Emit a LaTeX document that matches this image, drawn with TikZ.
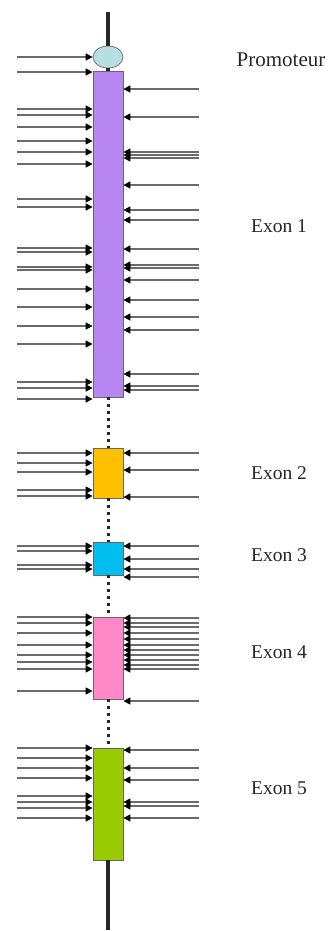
\documentclass[tikz,border=0pt]{standalone}
\usepackage{fontspec}
\setmainfont{Liberation Serif}
\usetikzlibrary{arrows.meta,shapes.geometric}
\begin{document}
\begin{tikzpicture}[x=1pt,y=-1pt,
  exon/.style={rectangle, draw=black!60, line width=0.8pt, minimum width=30pt, inner sep=0pt},
  feed/.style={draw=black!58, line width=1.5pt, -{Triangle[length=7pt,width=7pt,color=black]}},
  spine/.style={line width=3.5pt, draw=black!85},
  gap/.style={spine, line width=3pt, dash pattern=on 3pt off 4pt},
  lbl/.style={font=\fontsize{19.5}{22}\selectfont, text=black!85, anchor=center},
]
\useasboundingbox (0,0) rectangle (328,931);

% gene structure: promoter and five exons on one axis
\node[ellipse, draw=black!55, fill={rgb,255:red,183;green,222;blue,224}, line width=0.8pt,
      minimum width=30pt, minimum height=22pt, inner sep=0pt] (prom) at (108,57) {};
\node[exon, fill={rgb,255:red,184;green,134;blue,240}, minimum height=326pt] (e1) at (108,234) {};
\node[exon, fill={rgb,255:red,255;green,192;blue,0},   minimum height=50pt]  (e2) at (108,473) {};
\node[exon, fill={rgb,255:red,0;green,190;blue,240},   minimum height=33pt]  (e3) at (108,558.5) {};
\node[exon, fill={rgb,255:red,255;green,136;blue,200}, minimum height=82pt]  (e4) at (108,658) {};
\node[exon, fill={rgb,255:red,153;green,204;blue,0},   minimum height=112pt] (e5) at (108,804) {};

\coordinate (top) at (108,12);
\coordinate (bot) at (108,930);

% axis: solid ends, dotted introns
\draw[spine] (top) -- (prom.north);
\draw[spine] (prom.south) -- (e1.north);
\draw[gap] (e1.south) -- (e2.north);
\draw[gap] (e2.south) -- (e3.north);
\draw[gap] (e3.south) -- (e4.north);
\draw[gap] (e4.south) -- (e5.north);
\draw[spine] (e5.south) -- (bot);

% incoming arrows from the left
\draw[feed] (17,57) -- (prom.west);
\foreach \y in {72,109,115,127,141,152,164,199,207,248,252,267,270,289,307,326,344,382,388,399}
  \draw[feed] (17,\y) -- (e1.west |- 0,\y);
\foreach \y in {453,463,472,490,496}
  \draw[feed] (17,\y) -- (e2.west |- 0,\y);
\foreach \y in {546,551,565,569}
  \draw[feed] (17,\y) -- (e3.west |- 0,\y);
\foreach \y in {617,623,633,645,655,662,669,691}
  \draw[feed] (17,\y) -- (e4.west |- 0,\y);
\foreach \y in {748,758,768,778,796,802,808,818}
  \draw[feed] (17,\y) -- (e5.west |- 0,\y);

% incoming arrows from the right
\foreach \y in {89,117,152,155,158,185,210,220,249,265,268,280,300,317,330,374,386,390}
  \draw[feed] (199,\y) -- (e1.east |- 0,\y);
\foreach \y in {453,470,497}
  \draw[feed] (199,\y) -- (e2.east |- 0,\y);
\foreach \y in {546,559,569,577}
  \draw[feed] (199,\y) -- (e3.east |- 0,\y);
\foreach \y in {618,623,627,633,639,645,650,655,660,665,669,701}
  \draw[feed] (199,\y) -- (e4.east |- 0,\y);
\foreach \y in {750,768,780,802,806,818}
  \draw[feed] (199,\y) -- (e5.east |- 0,\y);

% labels
\node[lbl, font=\fontsize{21}{24}\selectfont] (lp)  at (281,60)  {Promoteur};
\node[lbl] (l1)  at (279,226) {Exon 1};
\node[lbl] (l2)  at (279,473) {Exon 2};
\node[lbl] (l3)  at (279,555) {Exon 3};
\node[lbl] (l4)  at (279,652) {Exon 4};
\node[lbl] (l5)  at (279,788) {Exon 5};
\end{tikzpicture}
\end{document}
